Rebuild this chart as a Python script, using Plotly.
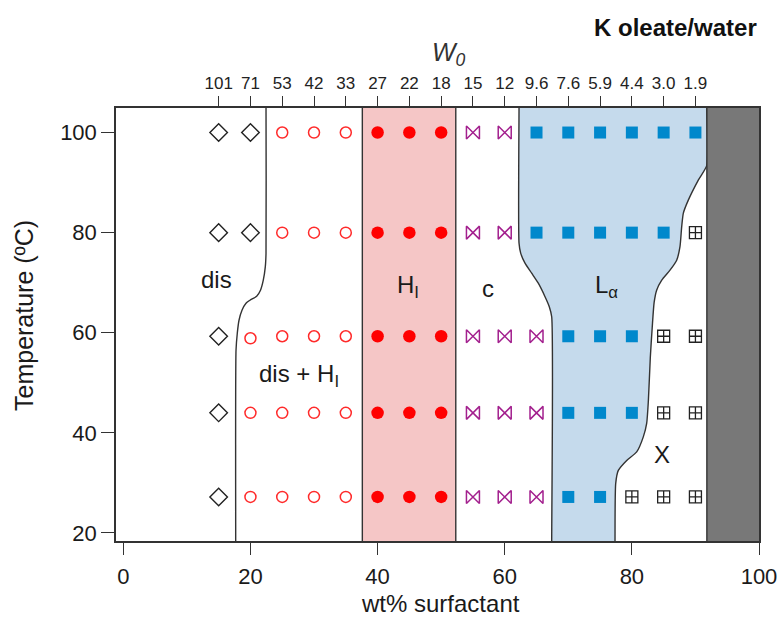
import plotly.graph_objects as go

# ---- axis ticks -------------------------------------------------------------
wt_ticks = [0, 20, 40, 60, 80, 100]
temp_ticks = [20, 40, 60, 80, 100]
w0_pos = [15, 20, 25, 30, 35, 40, 45, 50, 55, 60, 65, 70, 75, 80, 85, 90]
w0_labels = ["101", "71", "53", "42", "33", "27", "22", "18", "15", "12",
             "9.6", "7.6", "5.9", "4.4", "3.0", "1.9"]

# ---- samples (wt% surfactant, temperature) per observed phase ---------------
dis_wt = [15, 20, 15, 20, 15, 15, 15]
dis_T = [100, 100, 80, 80, 59.3, 44.0, 27.2]

disH_wt = [25, 30, 35, 25, 30, 35, 20, 25, 30, 35, 20, 25, 30, 35, 20, 25, 30, 35]
disH_T = [100, 100, 100, 80, 80, 80, 58.9, 59.3, 59.3, 59.3,
          44.0, 44.0, 44.0, 44.0, 27.2, 27.2, 27.2, 27.2]

hex_wt = [40, 45, 50, 40, 45, 50, 40, 45, 50, 40, 45, 50, 40, 45, 50]
hex_T = [100, 100, 100, 80, 80, 80, 59.3, 59.3, 59.3, 44.0, 44.0, 44.0, 27.2, 27.2, 27.2]

cub_wt = [55, 60, 55, 60, 55, 60, 65, 55, 60, 65, 55, 60, 65]
cub_T = [100, 100, 80, 80, 59.3, 59.3, 59.3, 44.0, 44.0, 44.0, 27.2, 27.2, 27.2]

lam_wt = [65, 70, 75, 80, 85, 90, 65, 70, 75, 80, 85, 70, 75, 80, 70, 75, 80, 70, 75]
lam_T = [100, 100, 100, 100, 100, 100, 80, 80, 80, 80, 80,
         59.3, 59.3, 59.3, 44.0, 44.0, 44.0, 27.2, 27.2]

x_wt = [90, 85, 90, 85, 90, 80, 85, 90]
x_T = [80, 59.3, 59.3, 44.0, 44.0, 27.2, 27.2, 27.2]

# ---- phase boundaries -------------------------------------------------------
dis_bnd_wt = [22.45, 22.45, 22.45, 22.34, 22.02, 21.58, 20.98, 19.93, 19.30,
              18.67, 18.20, 17.93, 17.73, 17.68, 17.68]
dis_bnd_T = [110, 104.9, 75.9, 73.2, 70.5, 68.5, 67.3, 66.5, 65.9,
             64.5, 62.5, 59.9, 56.5, 18.4, 10]

hex_left, hex_right = 37.6, 52.3

lam_left_wt = [62.25, 62.25, 62.25, 62.51, 63.19, 64.24, 65.28, 66.34, 67.01, 67.39, 67.39, 67.39]
lam_left_T = [110, 104.9, 77.9, 75.9, 73.9, 71.9, 69.9, 67.2, 65.2, 63.2, 18.4, 10]
lam_right_wt = [77.35, 77.35, 77.46, 77.87, 79.19, 80.76, 81.8, 82.33, 82.6, 82.9,
                83.2, 83.5, 83.9, 84.7, 86.0, 87.05, 87.57, 87.84, 88.1, 88.88,
                90.45, 91.8, 91.8, 91.8]
lam_right_T = [10, 18.4, 29.9, 32.5, 34.5, 36.2, 39.2, 41.9, 46.5, 55.0,
               61.0, 66.0, 68.5, 70.5, 72.5, 74.5, 77.2, 81.2, 83.9, 86.5,
               90.5, 93.5, 104.9, 110]

solid_left = 91.8

T_low, T_high = 10, 110          # polygons run past the axis range and are clipped
x_range = [-1.15, 100]
y_range = [18.4, 104.9]

FONT = "Liberation Sans, Arial, Helvetica, sans-serif"
INK = "#1a1a1a"
EDGE = "#333333"

# plot-area geometry in pixels, used to place the outer titles
L, R, T, B, W, H = 116, 22, 108, 76, 781, 617
PW, PH = W - L - R, H - T - B


def px_x(px):
    return (px - L) / PW


def px_y(py):
    return (H - B - py) / PH


fig = go.Figure()

# hexagonal (H1) band
fig.add_trace(go.Scatter(
    x=[hex_left, hex_right, hex_right, hex_left, hex_left],
    y=[T_low, T_low, T_high, T_high, T_low],
    fill="toself", fillcolor="rgb(245,198,198)", mode="lines",
    line=dict(color=EDGE, width=1.4), hoverinfo="skip", showlegend=False))

# lamellar (L alpha) region
fig.add_trace(go.Scatter(
    x=lam_left_wt + lam_right_wt,
    y=lam_left_T + lam_right_T,
    fill="toself", fillcolor="rgb(197,218,236)", mode="lines",
    line=dict(color=EDGE, width=1.4, shape="spline", smoothing=0.6),
    hoverinfo="skip", showlegend=False))

# solid region
fig.add_trace(go.Scatter(
    x=[solid_left, x_range[1] + 2, x_range[1] + 2, solid_left, solid_left],
    y=[T_low, T_low, T_high, T_high, T_low],
    fill="toself", fillcolor="rgb(120,120,120)", mode="lines",
    line=dict(color=EDGE, width=1.4), hoverinfo="skip", showlegend=False))

# dis / dis + H1 boundary
fig.add_trace(go.Scatter(
    x=dis_bnd_wt, y=dis_bnd_T, mode="lines",
    line=dict(color=EDGE, width=1.4, shape="spline", smoothing=0.6),
    hoverinfo="skip", showlegend=False))

# sample markers
fig.add_trace(go.Scatter(
    x=dis_wt, y=dis_T, mode="markers", showlegend=False,
    marker=dict(symbol="diamond-open", size=13.5, color="#222222",
                line=dict(width=1.4, color="#222222"))))
fig.add_trace(go.Scatter(
    x=disH_wt, y=disH_T, mode="markers", showlegend=False,
    marker=dict(symbol="circle-open", size=11, color="#ff2a2a",
                line=dict(width=1.5, color="#ff2a2a"))))
fig.add_trace(go.Scatter(
    x=hex_wt, y=hex_T, mode="markers", showlegend=False,
    marker=dict(symbol="circle", size=12.5, color="#ff0000",
                line=dict(width=0))))
fig.add_trace(go.Scatter(
    x=cub_wt, y=cub_T, mode="markers", showlegend=False,
    marker=dict(symbol="bowtie-open", size=13, color="#a3208e",
                line=dict(width=1.5, color="#a3208e"))))
fig.add_trace(go.Scatter(
    x=lam_wt, y=lam_T, mode="markers", showlegend=False,
    marker=dict(symbol="square", size=12, color="#0088cc",
                line=dict(width=0))))
fig.add_trace(go.Scatter(
    x=x_wt, y=x_T, mode="markers", showlegend=False,
    marker=dict(symbol="square-cross-open", size=12, color="#222222",
                line=dict(width=1.3, color="#222222"))))

# carrier for the W0 axis along the top
fig.add_trace(go.Scatter(
    x=w0_pos, y=[y_range[1]] * len(w0_pos), xaxis="x2", mode="markers",
    marker=dict(opacity=0), hoverinfo="skip", showlegend=False))

# phase labels
labels = [
    ("dis", 14.6, 70.7),
    ("H<sub>I</sub>", 44.8, 69.2),
    ("c", 57.3, 68.9),
    ("L<sub>\u03b1</sub>", 76.0, 69.2),
    ("dis + H<sub>I</sub>", 27.6, 51.4),
    ("X", 84.7, 35.6),
]
annotations = [
    dict(text=t, x=x, y=y, xref="x", yref="y", showarrow=False,
         xanchor="center", yanchor="middle",
         font=dict(family=FONT, size=24, color=INK))
    for t, x, y in labels
]
annotations += [
    dict(text="<i>W<sub>0</sub></i>", x=px_x(449), y=px_y(54),
         xref="paper", yref="paper", xanchor="center", yanchor="middle",
         showarrow=False, font=dict(family=FONT, size=25, color="#333333")),
    dict(text="<b>K oleate/water</b>", x=px_x(759), y=px_y(27),
         xref="paper", yref="paper", xanchor="right", yanchor="middle",
         showarrow=False, font=dict(family=FONT, size=24, color="#111111")),
    dict(text="wt% surfactant", x=px_x(440), y=px_y(603),
         xref="paper", yref="paper", xanchor="center", yanchor="middle",
         showarrow=False, font=dict(family=FONT, size=24, color=INK)),
    dict(text="Temperature (\u00baC)", x=px_x(24), y=px_y(316),
         xref="paper", yref="paper", xanchor="center", yanchor="middle",
         showarrow=False, textangle=-90,
         font=dict(family=FONT, size=25, color=INK)),
]

fig.update_layout(
    width=W, height=H,
    margin=dict(l=L, r=R, t=T, b=B),
    paper_bgcolor="white", plot_bgcolor="white",
    font=dict(family=FONT, color=INK),
    annotations=annotations,
    xaxis=dict(range=x_range, tickvals=wt_ticks, ticks="outside", ticklen=12,
               tickwidth=1.4, tickcolor=EDGE, showline=True, linecolor=EDGE,
               linewidth=1.5, mirror=True, showgrid=False, zeroline=False,
               automargin=False, ticklabelstandoff=3,
               tickfont=dict(family=FONT, size=22, color=INK)),
    xaxis2=dict(range=x_range, overlaying="x", side="top", anchor="y",
                tickvals=w0_pos, ticktext=w0_labels, ticks="outside", ticklen=11,
                tickwidth=1.2, tickcolor=EDGE, showline=False, showgrid=False,
                zeroline=False, automargin=False,
                tickfont=dict(family=FONT, size=17, color="#222222")),
    yaxis=dict(range=y_range, tickvals=temp_ticks, ticks="outside", ticklen=13,
               tickwidth=1.4, tickcolor=EDGE, showline=True, linecolor=EDGE,
               linewidth=1.5, mirror=True, showgrid=False, zeroline=False,
               automargin=False,
               tickfont=dict(family=FONT, size=22, color=INK)),
)

fig.write_html("out.html")
